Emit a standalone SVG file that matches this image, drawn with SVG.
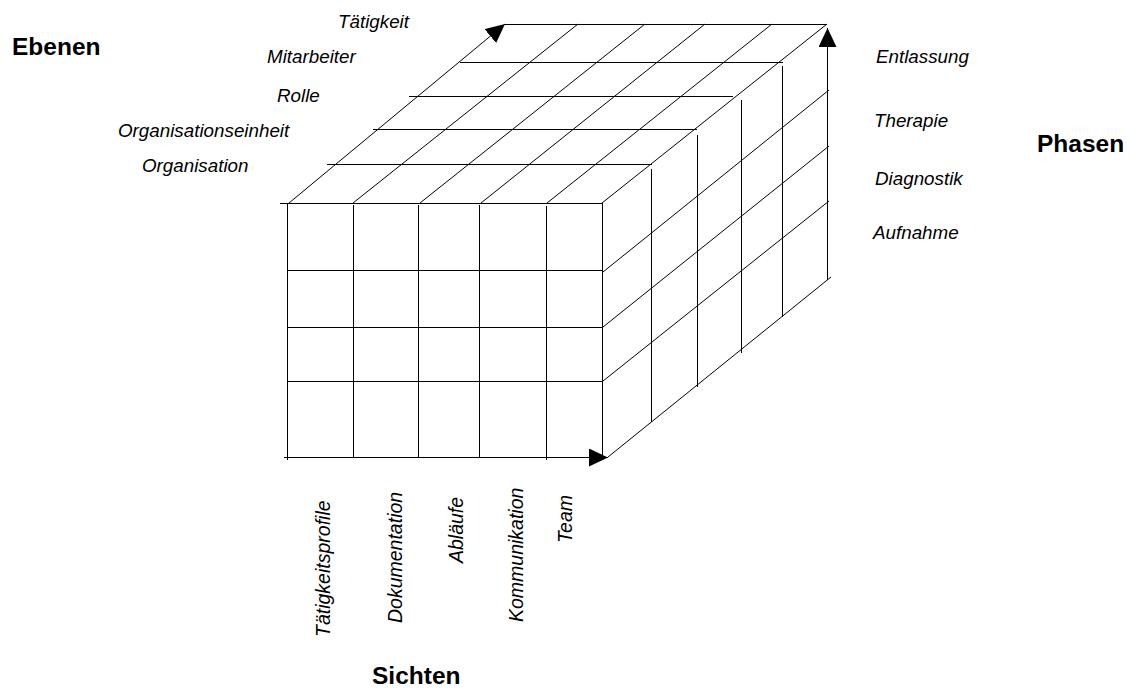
<svg xmlns="http://www.w3.org/2000/svg" width="1130" height="689" viewBox="0 0 1130 689">
  <style>
    .ln { stroke: #000; stroke-width: 1; fill: none; }
    .it { font-family: "Liberation Sans", Arial, sans-serif; font-style: italic; font-size: 18.8px; fill: #000; }
    .itv { font-family: "Liberation Sans", Arial, sans-serif; font-style: italic; font-size: 19.5px; fill: #000; }
    .bd { font-family: "Liberation Sans", Arial, sans-serif; font-weight: bold; font-size: 24.5px; fill: #000; }
  </style>
  <defs>
    <marker id="arrow" markerUnits="userSpaceOnUse" markerWidth="20" markerHeight="18" refX="19" refY="9" orient="auto">
      <path d="M0,0 L19,9 L0,18 Z" fill="#000"/>
    </marker>
  </defs>
  <rect width="1130" height="689" fill="#fff"/>

  <g id="front-face">
    <line class="ln" x1="280" y1="203.5" x2="602" y2="203.5"/>
    <line class="ln" x1="287" y1="270.5" x2="602" y2="270.5"/>
    <line class="ln" x1="287" y1="327.5" x2="602" y2="327.5"/>
    <line class="ln" x1="287" y1="381.5" x2="602" y2="381.5"/>
    <line class="ln" x1="287.5" y1="203" x2="287.5" y2="460"/>
    <line class="ln" x1="353.5" y1="205" x2="353.5" y2="457"/>
    <line class="ln" x1="418.5" y1="205" x2="418.5" y2="457"/>
    <line class="ln" x1="479.5" y1="205" x2="479.5" y2="457"/>
    <line class="ln" x1="546.5" y1="206" x2="546.5" y2="460"/>
    <line class="ln" x1="602.5" y1="203" x2="602.5" y2="457"/>
  </g>

  <g id="top-face">
    <line class="ln" x1="505" y1="24.5" x2="827" y2="24.5"/>
    <line class="ln" x1="460" y1="62.5" x2="783" y2="62.5"/>
    <line class="ln" x1="409" y1="96.5" x2="733" y2="96.5"/>
    <line class="ln" x1="373" y1="129.5" x2="697" y2="129.5"/>
    <line class="ln" x1="327" y1="164.5" x2="652" y2="164.5"/>
    <line class="ln" x1="353" y1="203" x2="578" y2="24"/>
    <line class="ln" x1="420" y1="203" x2="645" y2="24"/>
    <line class="ln" x1="481" y1="203" x2="705" y2="24"/>
    <line class="ln" x1="547" y1="203" x2="772" y2="24"/>
    <line class="ln" x1="602" y1="203" x2="827" y2="24"/>
  </g>

  <g id="right-face">
    <line class="ln" x1="651.5" y1="169" x2="651.5" y2="422"/>
    <line class="ln" x1="697.5" y1="135" x2="697.5" y2="387"/>
    <line class="ln" x1="741.5" y1="100" x2="741.5" y2="353"/>
    <line class="ln" x1="782.5" y1="66" x2="782.5" y2="317"/>
    <line class="ln" x1="603" y1="272" x2="829" y2="90"/>
    <line class="ln" x1="603" y1="327" x2="829" y2="146"/>
    <line class="ln" x1="603" y1="381" x2="829" y2="201"/>
    <line class="ln" x1="608" y1="457" x2="831" y2="277"/>
  </g>

  <g id="axes">
    <line class="ln" x1="284" y1="457.5" x2="608" y2="457.5" marker-end="url(#arrow)"/>
    <line class="ln" x1="827.5" y1="280" x2="827.5" y2="28" marker-end="url(#arrow)"/>
    <line class="ln" x1="289" y1="203" x2="505" y2="24" marker-end="url(#arrow)"/>
  </g>

  <g id="ebenen-labels">
    <text class="bd" x="12" y="55">Ebenen</text>
    <text class="it" x="338" y="28">Tätigkeit</text>
    <text class="it" x="267" y="63">Mitarbeiter</text>
    <text class="it" x="277" y="102">Rolle</text>
    <text class="it" x="118" y="137">Organisationseinheit</text>
    <text class="it" x="142" y="172">Organisation</text>
  </g>

  <g id="phasen-labels">
    <text class="bd" x="1037" y="152">Phasen</text>
    <text class="it" x="876" y="63">Entlassung</text>
    <text class="it" x="874" y="127">Therapie</text>
    <text class="it" x="875" y="185">Diagnostik</text>
    <text class="it" x="873" y="239">Aufnahme</text>
  </g>

  <g id="sichten-labels">
    <text class="bd" x="372" y="684">Sichten</text>
    <text class="itv" transform="translate(330,637) rotate(-90)">Tätigkeitsprofile</text>
    <text class="itv" transform="translate(402,623) rotate(-90)">Dokumentation</text>
    <text class="itv" transform="translate(463,563) rotate(-90)">Abläufe</text>
    <text class="itv" transform="translate(523,622) rotate(-90)">Kommunikation</text>
    <text class="itv" transform="translate(572,543) rotate(-90)">Team</text>
  </g>
</svg>
